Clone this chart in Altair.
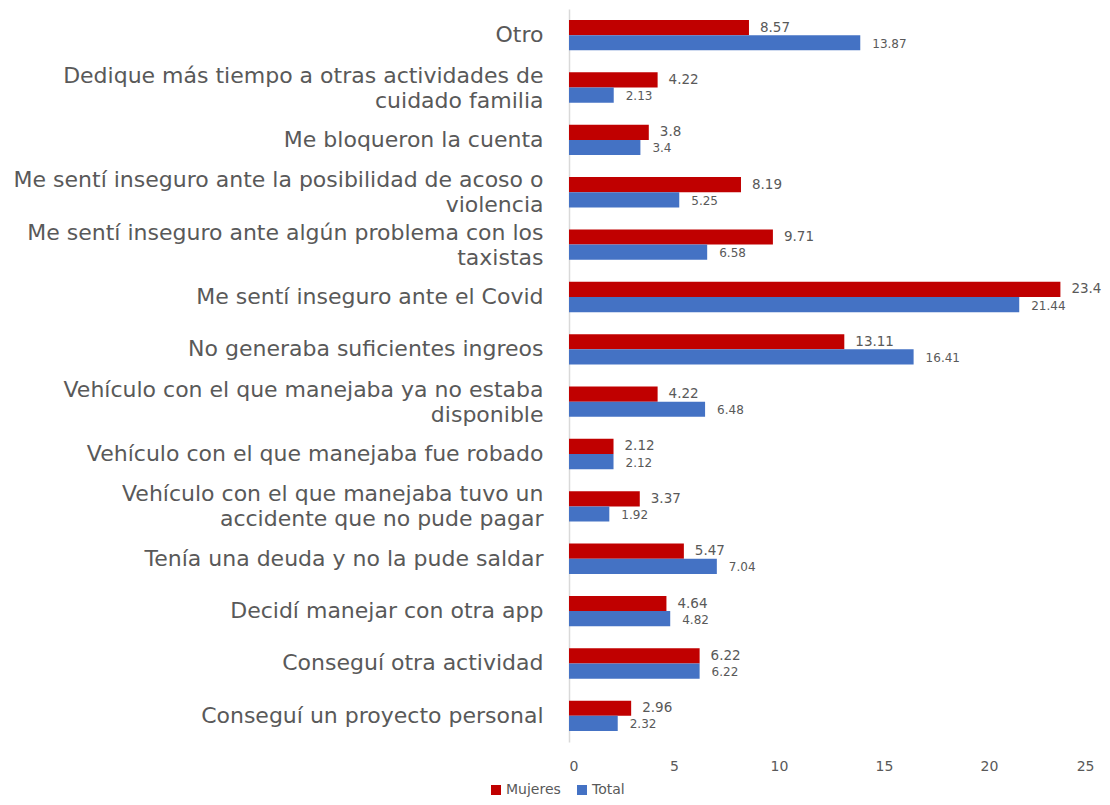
import altair as alt
import pandas as pd

categorias = [
    "Otro",
    "Dedique más tiempo a otras actividades de|cuidado familia",
    "Me bloqueron la cuenta",
    "Me sentí inseguro ante la posibilidad de acoso o|violencia",
    "Me sentí inseguro ante algún problema con los|taxistas",
    "Me sentí inseguro ante el Covid",
    "No generaba suficientes ingreos",
    "Vehículo con el que manejaba ya no estaba|disponible",
    "Vehículo con el que manejaba fue robado",
    "Vehículo con el que manejaba tuvo un|accidente que no pude pagar",
    "Tenía una deuda y no la pude saldar",
    "Decidí manejar con otra app",
    "Conseguí otra actividad",
    "Conseguí un proyecto personal",
]
mujeres = [8.57, 4.22, 3.8, 8.19, 9.71, 23.4, 13.11, 4.22, 2.12, 3.37, 5.47, 4.64, 6.22, 2.96]
total = [13.87, 2.13, 3.4, 5.25, 6.58, 21.44, 16.41, 6.48, 2.12, 1.92, 7.04, 4.82, 6.22, 2.32]
series = ["Mujeres", "Total"]
colores = ["#C00000", "#4472C4"]

rows = []
for c, m, t in zip(categorias, mujeres, total):
    rows.append({"cat": c, "serie": "Mujeres", "valor": m, "etiqueta": f"{m:g}"})
    rows.append({"cat": c, "serie": "Total", "valor": t, "etiqueta": f"{t:g}"})
df = pd.DataFrame(rows)

FONT = "DejaVu Sans"

y_enc = alt.Y(
    "cat:N",
    sort=categorias,
    scale=alt.Scale(paddingInner=0.42, paddingOuter=0.21),
    axis=alt.Axis(
        title=None,
        labelExpr="split(datum.value, '|')",
        labelFont=FONT,
        labelFontSize=22,
        labelColor="#595959",
        labelLimit=700,
        labelPadding=26,
        labelLineHeight=25,
        labelOffset={"condition": {"test": "indexof(datum.value, '|') >= 0", "value": -12}, "value": 0},
        ticks=False,
        grid=False,
        domainColor="#D9D9D9",
        domainWidth=1.5,
        minExtent=561,
        maxExtent=561,
    ),
)
x_enc = alt.X(
    "valor:Q",
    scale=alt.Scale(domain=[0, 25], nice=False),
    axis=alt.Axis(
        title=None,
        values=[0, 5, 10, 15, 20, 25],
        grid=False,
        domain=False,
        ticks=False,
        labelFont=FONT,
        labelFontSize=14,
        labelColor="#595959",
        labelPadding=17,
    ),
)

base = alt.Chart(df).encode(
    y=y_enc,
    yOffset=alt.YOffset("serie:N", sort=series, scale=alt.Scale(domain=series)),
)

bars = base.mark_bar().encode(
    x=x_enc,
    color=alt.Color(
        "serie:N",
        sort=series,
        scale=alt.Scale(domain=series, range=colores),
        legend=alt.Legend(
            title=None,
            orient="none",
            legendX=-80,
            legendY=774,
            direction="horizontal",
            symbolType="square",
            symbolSize=100,
            symbolStrokeWidth=0,
            labelFont=FONT,
            labelFontSize=14,
            labelColor="#595959",
            columnPadding=14,
            labelOffset=3,
        ),
    ),
)

txt_m = base.transform_filter(alt.datum.serie == "Mujeres").mark_text(
    align="left", baseline="middle", dx=11, font=FONT, fontSize=13.5, color="#595959"
).encode(x="valor:Q", text="etiqueta:N")

txt_t = base.transform_filter(alt.datum.serie == "Total").mark_text(
    align="left", baseline="middle", dx=12, dy=1, font=FONT, fontSize=12, color="#595959"
).encode(x="valor:Q", text="etiqueta:N")

chart = (
    alt.layer(bars, txt_m, txt_t)
    .properties(
        width=525,
        height=733,
        padding={"left": 0, "top": 1, "right": 0, "bottom": 0},
        view=alt.ViewBackground(stroke=None, strokeWidth=0, strokeOpacity=0),
    )
    .configure_view(strokeWidth=0, strokeOpacity=0)
    .configure_axis(grid=False)
    .configure(background="white")
)

chart.save("out.html", embed_options={"renderer": "svg", "actions": False})
